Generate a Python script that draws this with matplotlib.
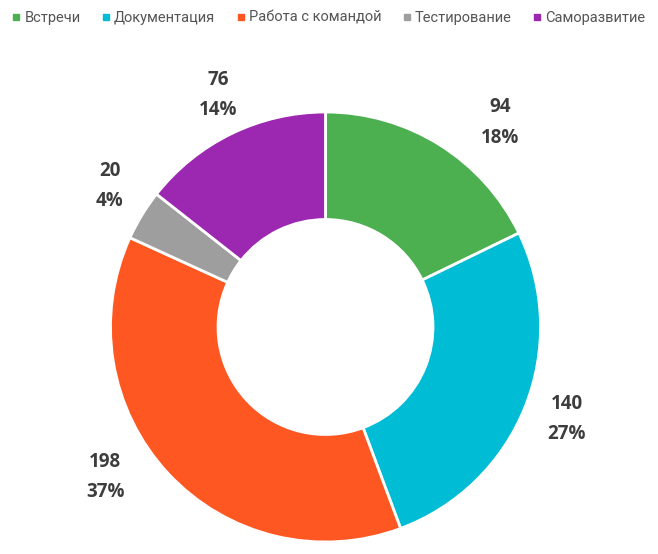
import numpy as np
import matplotlib
matplotlib.use("Agg")
import matplotlib.pyplot as plt
from matplotlib.lines import Line2D

categories = ["Встречи", "Документация", "Работа с командой", "Тестирование", "Саморазвитие"]
values = [94, 140, 198, 20, 76]
colors = ["#4CAF50", "#00BCD4", "#FF5722", "#9E9E9E", "#9C27B0"]

W, H = 658, 554
fig = plt.figure(figsize=(W / 100, H / 100), dpi=100)
cx, cy, R = 325.5, H - 327, 215
ax = fig.add_axes([(cx - R) / W, (cy - R) / H, 2 * R / W, 2 * R / H])

wedges, _ = ax.pie(values, colors=colors, startangle=90, counterclock=False, radius=1,
                   wedgeprops=dict(width=0.5, edgecolor="white", linewidth=2))
ax.set_xlim(-1, 1)
ax.set_ylim(-1, 1)
ax.set_aspect("equal")
ax.axis("off")

# percentages rounded to sum to 100 (largest remainder)
total = sum(values)
raw = np.array(values) / total * 100
pcts = np.floor(raw).astype(int)
rem = raw - pcts
for i in np.argsort(-rem)[: 100 - pcts.sum()]:
    pcts[i] += 1

# label layout tweaks (angle nudge in degrees, radial distance)
label_nudge = [-8.4, 0.9, -8.7, -1.8, -1.1]
label_radius = [1.25, 1.20, 1.24, 1.20, 1.19]

label_font = dict(family=["Open Sans", "DejaVu Sans"], fontweight="bold", fontsize=13.5, color="#3d3d3d")
for w, v, p, dn, r in zip(wedges, values, pcts, label_nudge, label_radius):
    ang = np.deg2rad((w.theta1 + w.theta2) / 2 + dn)
    x, y = r * np.cos(ang), r * np.sin(ang)
    ax.text(x, y + 0.07, f"{v}", ha="center", va="center", clip_on=False, **label_font)
    ax.text(x, y - 0.07, f"{p}%", ha="center", va="center", clip_on=False, **label_font)

handles = [Line2D([0], [0], marker="s", linestyle="none", markersize=5,
                  markerfacecolor=c, markeredgecolor=c) for c in colors]
fig.legend(handles, categories, loc="center", bbox_to_anchor=(0.5, 1 - 18 / H), ncol=5,
           frameon=False, handletextpad=0.3, columnspacing=1.5, handlelength=0.5,
           prop=dict(family=["Roboto", "DejaVu Sans"], size=10.5), labelcolor="#555555")

fig.savefig("out.png", dpi=100)
